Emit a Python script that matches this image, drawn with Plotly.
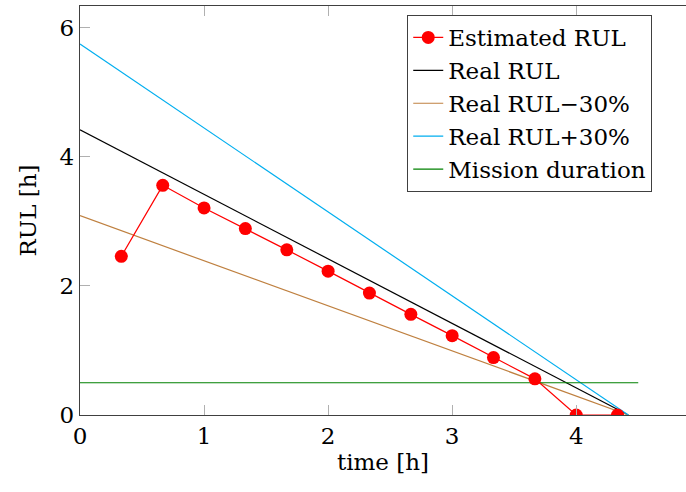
import plotly.graph_objects as go

# Data
t_est = [0.333, 0.667, 1.0, 1.333, 1.667, 2.0, 2.333, 2.667, 3.0, 3.333, 3.667, 4.0, 4.333]
rul_est = [2.46, 3.56, 3.21, 2.89, 2.56, 2.23, 1.89, 1.56, 1.23, 0.89, 0.56, 0.0, 0.0]

t_real = [0.0, 4.42]
rul_real = [4.42, 0.0]
rul_minus30 = [3.09, 0.0]
rul_plus30 = [5.75, 0.0]

t_mission = [0.0, 4.5]
mission = [0.5, 0.5]

x_ticks = [0, 1, 2, 3, 4]
y_ticks = [0, 2, 4, 6]

FONT = "DejaVu Serif"

fig = go.Figure()
fig.add_trace(go.Scatter(x=t_real, y=rul_real, mode="lines", name="Real RUL",
                         line=dict(color="black", width=1.2), legendrank=2))
fig.add_trace(go.Scatter(x=t_real, y=rul_minus30, mode="lines", name="Real RUL\u221230%",
                         line=dict(color="#bf8040", width=1.2), legendrank=3))
fig.add_trace(go.Scatter(x=t_real, y=rul_plus30, mode="lines", name="Real RUL+30%",
                         line=dict(color="#00aeef", width=1.2), legendrank=4))
fig.add_trace(go.Scatter(x=t_mission, y=mission, mode="lines", name="Mission duration",
                         line=dict(color="#008000", width=1.2), legendrank=5))
fig.add_trace(go.Scatter(x=t_est, y=rul_est, mode="lines+markers", name="Estimated RUL",
                         line=dict(color="#ff0000", width=1.2),
                         marker=dict(color="#ff0000", size=13), legendrank=1))

axis_common = dict(
    showline=True, linecolor="#404040", linewidth=1.3,
    ticks="inside", ticklen=10, tickwidth=1, tickcolor="#b0b0b0",
    showgrid=False, zeroline=False,
    tickfont=dict(family=FONT, size=23, color="black"),
)

fig.update_layout(
    width=686, height=492,
    margin=dict(l=80, r=0, t=6, b=77),
    paper_bgcolor="white", plot_bgcolor="white",
    font=dict(family=FONT, color="black"),
    xaxis=dict(range=[0, 4.885], tickvals=x_ticks, mirror="ticks",
               title=dict(text="time [h]", font=dict(family=FONT, size=23), standoff=6),
               **axis_common),
    yaxis=dict(range=[0, 6.34], tickvals=y_ticks, mirror=False,
               title=dict(text="RUL [h]", font=dict(family=FONT, size=23), standoff=16),
               **axis_common),
    legend=dict(x=0.54, y=0.978, xanchor="left", yanchor="top",
                bordercolor="#404040", borderwidth=1, bgcolor="white",
                font=dict(family=FONT, size=23, color="black"),
                tracegroupgap=0),
    showlegend=True,
)

fig.write_html("out.html")
